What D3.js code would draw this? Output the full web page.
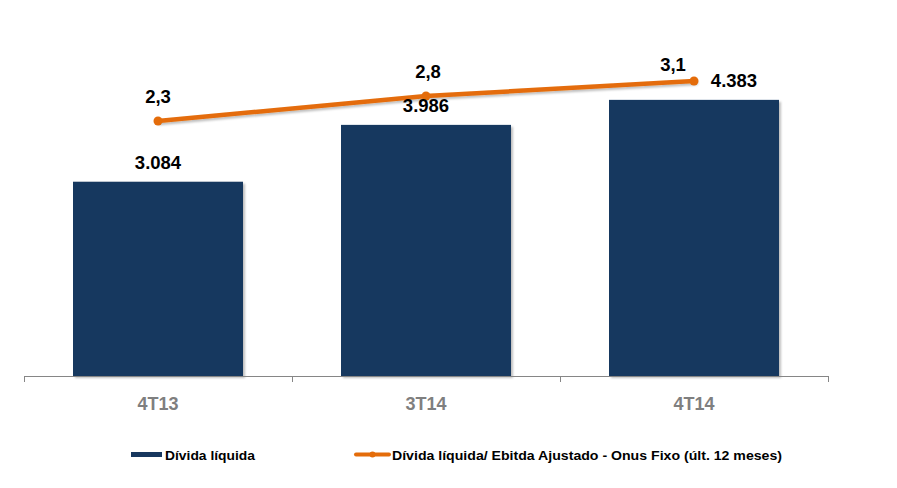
<!DOCTYPE html>
<html>
<head>
<meta charset="utf-8">
<script src="https://cdn.jsdelivr.net/npm/d3@7"></script>
<style>
  html, body { margin: 0; padding: 0; background: #fff; }
  svg { display: block; }
  text { font-family: "Liberation Sans", Arial, sans-serif; font-weight: bold; }
</style>
</head>
<body>
<svg id="chart" width="897" height="488"></svg>
<script>
const categories = ["4T13", "3T14", "4T14"];
const debtValues = [3084, 3986, 4383];
const debtLabels = ["3.084", "3.986", "4.383"];
const ratioValues = [2.3, 2.8, 3.1];
const ratioLabels = ["2,3", "2,8", "3,1"];
const legendLabels = ["Dívida líquida", "Dívida líquida/ Ebitda Ajustado - Onus Fixo (últ. 12 meses)"];

const navy = "#17375E";
const orange = "#E46C0A";

const svg = d3.select("#chart");

const defs = svg.append("defs");
const f = defs.append("filter").attr("id", "shadow").attr("x", "-10%").attr("y", "-10%").attr("width", "130%").attr("height", "130%");
f.append("feDropShadow").attr("dx", 2).attr("dy", 2).attr("stdDeviation", 1.2)
  .attr("flood-color", "#000").attr("flood-opacity", 0.25);

const x = d3.scaleBand().domain(categories).range([24, 828])
  .paddingInner(98 / 268).paddingOuter(49 / 268);
const yBar = d3.scaleLinear().domain([0, 5000]).range([376, 61]);
const yLine = d3.scaleLinear().domain([-2.8, 3.5]).range([376, 61]);

// bars
svg.append("g").selectAll("rect").data(categories).join("rect")
  .attr("x", d => x(d))
  .attr("y", (d, i) => yBar(debtValues[i]))
  .attr("width", x.bandwidth())
  .attr("height", (d, i) => yBar(0) - yBar(debtValues[i]))
  .attr("fill", navy)
  .attr("filter", "url(#shadow)");

// axis
const axisG = svg.append("g");
const [r0, r1] = x.range();
axisG.append("line").attr("x1", r0).attr("x2", r1).attr("y1", yBar(0) + 0.5).attr("y2", yBar(0) + 0.5)
  .attr("stroke", "#868686").attr("stroke-width", 1);
d3.range(categories.length + 1).forEach(i => {
  const tx = Math.round(r0 + i * x.step()) + 0.5;
  axisG.append("line").attr("x1", tx).attr("x2", tx).attr("y1", yBar(0)).attr("y2", yBar(0) + 6)
    .attr("stroke", "#868686").attr("stroke-width", 1);
});
axisG.selectAll("text.cat").data(categories).join("text")
  .attr("class", "cat")
  .attr("x", d => x(d) + x.bandwidth() / 2)
  .attr("y", 410)
  .attr("text-anchor", "middle")
  .attr("font-size", 18)
  .attr("fill", "#7F7F7F")
  .text(d => d);

// line
const cx = d => x(d) + x.bandwidth() / 2;
const lineGen = d3.line().x((d, i) => cx(categories[i])).y(d => yLine(d));
svg.append("path").datum(ratioValues)
  .attr("d", lineGen)
  .attr("fill", "none")
  .attr("stroke", orange)
  .attr("stroke-width", 4.5)
  .attr("stroke-linecap", "round")
  .attr("filter", "url(#shadow)");
svg.append("g").selectAll("circle").data(ratioValues).join("circle")
  .attr("cx", (d, i) => cx(categories[i]))
  .attr("cy", d => yLine(d))
  .attr("r", 4.5)
  .attr("fill", orange);

// bar labels
const barLabelOffset = [[0, -13], [0, -13], [40, -14]];
svg.append("g").selectAll("text").data(debtLabels).join("text")
  .attr("x", (d, i) => cx(categories[i]) + barLabelOffset[i][0])
  .attr("y", (d, i) => (i === 2 ? yLine(ratioValues[i]) + 6 : yBar(debtValues[i]) + barLabelOffset[i][1]))
  .attr("text-anchor", "middle")
  .attr("font-size", 18.5)
  .attr("fill", "#000")
  .text(d => d);

// line labels
const lineLabelOffset = [[0, -18], [2, -18], [-21, -10]];
svg.append("g").selectAll("text").data(ratioLabels).join("text")
  .attr("x", (d, i) => cx(categories[i]) + lineLabelOffset[i][0])
  .attr("y", (d, i) => yLine(ratioValues[i]) + lineLabelOffset[i][1])
  .attr("text-anchor", "middle")
  .attr("font-size", 18.5)
  .attr("fill", "#000")
  .text(d => d);

// legend
const lg = svg.append("g");
lg.append("rect").attr("x", 131).attr("y", 452).attr("width", 31).attr("height", 5).attr("fill", navy);
lg.append("text").attr("x", 165).attr("y", 459.5).attr("font-size", 13).attr("fill", "#000")
  .attr("textLength", 90).attr("lengthAdjust", "spacingAndGlyphs").text(legendLabels[0]);
lg.append("line").attr("x1", 356).attr("x2", 389).attr("y1", 454.5).attr("y2", 454.5)
  .attr("stroke", orange).attr("stroke-width", 4).attr("stroke-linecap", "round");
lg.append("circle").attr("cx", 372.5).attr("cy", 454.5).attr("r", 3).attr("fill", orange);
lg.append("text").attr("x", 392).attr("y", 459.5).attr("font-size", 13).attr("fill", "#000")
  .attr("textLength", 390).attr("lengthAdjust", "spacingAndGlyphs").text(legendLabels[1]);
</script>
</body>
</html>
